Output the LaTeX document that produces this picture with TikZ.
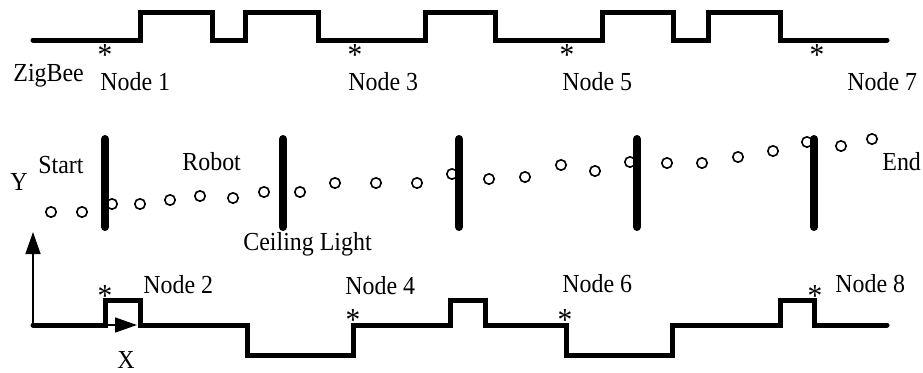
\documentclass[tikz,border=0pt]{standalone}
\usepackage{fontspec}
\setmainfont[FakeStretch=0.92]{Liberation Serif}
\usetikzlibrary{arrows.meta}
\begin{document}
\begin{tikzpicture}[x=0.5pt, y=-0.5pt, font=\fontsize{13}{15}\selectfont, line join=miter,
		wave/.style={line width=2.5pt, line cap=round},
		lamp/.style={line width=4pt, line cap=round},
		spot/.style={line width=0.8pt},
		axis/.style={line width=0.75pt, -{Triangle[length=11pt, width=7.5pt]}},
		lbl/.style={anchor=base west, inner sep=0pt},
		astk/.style={anchor=base, inner sep=0pt, font=\fontsize{16}{16}\selectfont, yshift=-7.5pt}]
	\useasboundingbox (0,0) rectangle (923,372);
	
	% ZigBee signal, odd nodes
	\draw[wave] (33,40) -- (140,40) |- (212,12) |- (245,40) |- (318,12) |- (425,40) |- (495,12)
		|- (602,40) |- (673,12) |- (708,40) |- (780,12) |- (887,40);
	% ZigBee signal, even nodes
	\draw[wave] (33,325) -- (105,325) |- (140,300) |- (247,325) |- (353,355) |- (450,325)
		|- (485,300) |- (566,325) |- (672,355) |- (780,325) |- (814,300) |- (887,325);
	
	% axes
	\path 
	(33,325) coordinate (O)
	(137,325) coordinate (Xtip)
	(33,232) coordinate (Ytip)
	;
	\draw[axis] (O) -- (Xtip);
	\draw[axis] (O) -- (Ytip);
	
	% ceiling lights
	\foreach \x in {105,283,459,637,814}
		\draw[lamp] (\x,139) -- (\x,227);
	
	% robot path
	\foreach \x/\y in {51/212, 82/212, 112/204, 140/204, 170/200, 200/196, 233/198, 264/192,
		300/192, 335/183, 376/183, 417/183, 452/174, 489/179, 525/177, 561/165, 595/171,
		630/162, 667/163, 702/163, 738/157, 773/151, 807/142, 841/146, 872/139}
		\draw[spot] (\x,\y) circle[radius=2.6pt];
	
	% node marks
	\node[astk] (s1) at (105,50) {*};
	\node[astk] (s3) at (355,50) {*};
	\node[astk] (s5) at (567,50) {*};
	\node[astk] (s7) at (817,50) {*};
	\node[astk] (s2) at (105,291) {*};
	\node[astk] (s4) at (353,315) {*};
	\node[astk] (s6) at (565,315) {*};
	\node[astk] (s8) at (815,291) {*};
	
	% labels
	\node[lbl] (zigbee) at (13,81) {ZigBee};
	\node[lbl] (n1) at (100,90) {Node 1};
	\node[lbl] (n3) at (348,90) {Node 3};
	\node[lbl] (n5) at (562,90) {Node 5};
	\node[lbl] (n7) at (847,90) {Node 7};
	\node[lbl] (n2) at (143,293) {Node 2};
	\node[lbl] (n4) at (345,294) {Node 4};
	\node[lbl] (n6) at (562,292) {Node 6};
	\node[lbl] (n8) at (835,292) {Node 8};
	\node[lbl] (start) at (38,173) {Start};
	\node[lbl] (robot) at (182,170) {Robot};
	\node[lbl] (end) at (882,170) {End};
	\node[lbl] (light) at (243,250) {Ceiling Light};
	\node[lbl] (ylab) at (10,190) {Y};
	\node[lbl] (xlab) at (117,368) {X};
\end{tikzpicture}
\end{document}
